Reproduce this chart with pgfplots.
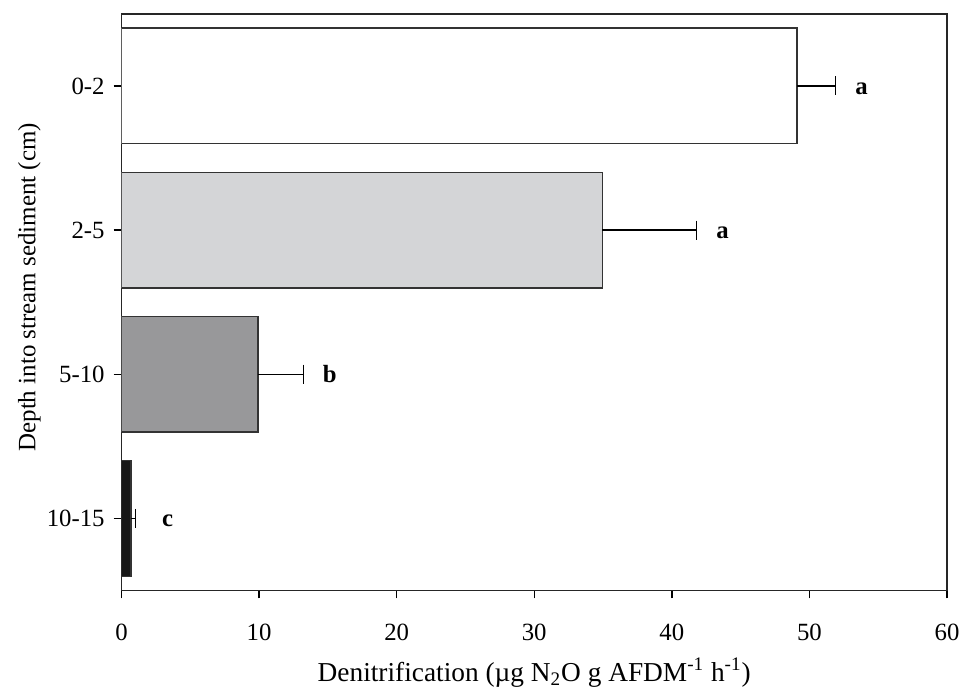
\documentclass[border=0pt]{standalone}
\usepackage{fontspec}
\setmainfont{Liberation Serif}
\usepackage{pgfplots}
\pgfplotsset{compat=1.18}

\definecolor{lightbar}{HTML}{D4D5D7}
\definecolor{midbar}{HTML}{98989A}
\definecolor{darkbar}{HTML}{161616}

\pgfplotsset{
  errbar/.style={
    error bars/x dir=plus,
    error bars/x explicit,
    error bars/error mark options={rotate=90, mark size=4.8pt, line width=0.7pt, black},
    error bars/error bar style={line width=0.7pt, black},
  },
}
\tikzset{
  sigletter/.style={anchor=base west, yshift=-4.2pt, font=\fontsize{12.5}{15}\selectfont\bfseries},
}

\begin{document}
\begin{tikzpicture}
  \begin{axis}[
    name=ax,
    scale only axis,
    width=416.7pt,
    height=291pt,
    xbar,
    bar shift=0pt,
    bar width=0.803,
    xmin=0, xmax=60,
    xtick={0,10,...,60},
    ymin=-0.5, ymax=3.5,
    y dir=reverse,
    ytick={0,1,2,3},
    yticklabels={0-2,2-5,5-10,10-15},
    tick align=outside,
    tick pos=left,
    major tick length=4pt,
    axis line style={line width=0.9pt, black!85},
    tick style={line width=0.7pt, black},
    font=\fontsize{12.5}{15}\selectfont,
    /pgf/number format/assume math mode=true,
    xticklabel style={anchor=center, yshift=-17pt},
    yticklabel style={xshift=-1pt},
    xlabel={Denitrification (µg N\textsubscript{2}O g AFDM\textsuperscript{-1} h\textsuperscript{-1})},
    ylabel={Depth into stream sediment (cm)},
    xlabel style={font=\fontsize{13.8}{16}\selectfont, at={([yshift=-41.5pt]axis description cs:0.5,0)}, anchor=center},
    ylabel style={font=\fontsize{12.6}{15}\selectfont, at={([xshift=-46.5pt,yshift=7.5pt]axis description cs:0,0.5)}, anchor=center},
    every axis plot/.append style={draw=black!80, line width=0.6pt},
  ]
    % 0-2 cm
    \addplot[fill=white, errbar] coordinates {(49.1,0) +- (2.8,0)};
    % 2-5 cm
    \addplot[fill=lightbar, errbar] coordinates {(34.95,1) +- (6.85,0)};
    % 5-10 cm
    \addplot[fill=midbar, errbar] coordinates {(9.92,2) +- (3.3,0)};
    % 10-15 cm
    \addplot[fill=darkbar, errbar] coordinates {(0.7,3) +- (0.3,0)};

    % significance letters
    \node[sigletter, xshift=6.5pt] at (axis cs:51.9,0) {a};
    \node[sigletter, xshift=6.5pt] at (axis cs:41.8,1) {a};
    \node[sigletter, xshift=6.5pt] at (axis cs:13.2,2) {b};
    \node[sigletter, xshift=10pt] at (axis cs:1.0,3) {c};
  \end{axis}
  % page margins as in the reference
  \path (ax.south west) ++(-61.3pt,-50pt) (ax.north east) ++(5pt,7pt);
\end{tikzpicture}
\end{document}
